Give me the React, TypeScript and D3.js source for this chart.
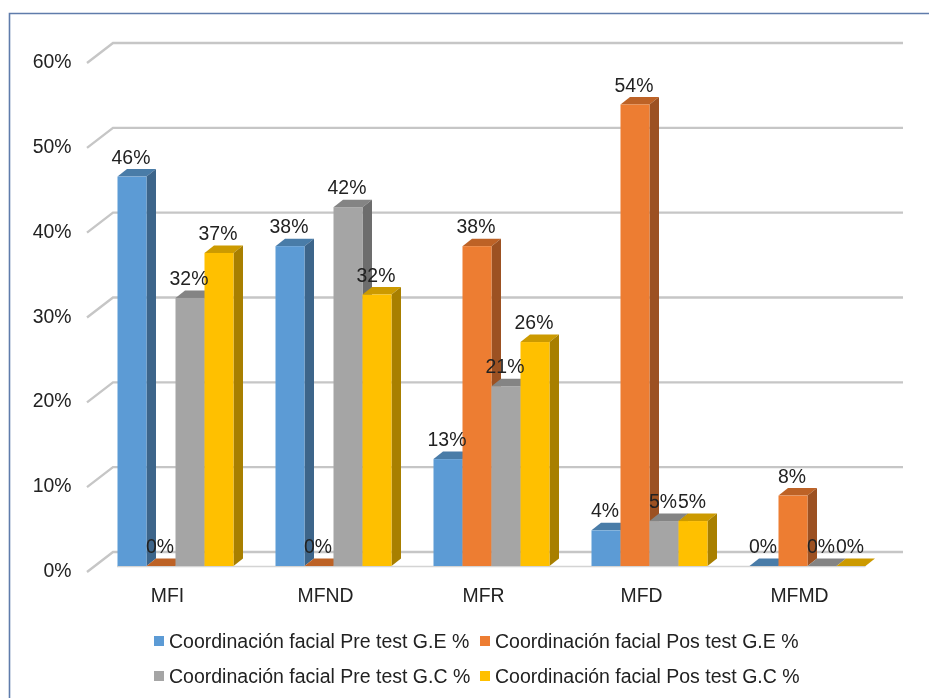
import React from "react";
import * as d3 from "d3";

const categories = ["MFI", "MFND", "MFR", "MFD", "MFMD"];
const seriesNames = [
  "Coordinación facial Pre test G.E %",
  "Coordinación facial Pos test G.E %",
  "Coordinación facial Pre test G.C %",
  "Coordinación facial Pos test G.C %",
];
const preGE = [45.9, 37.7, 12.6, 4.2, 0];
const posGE = [0, 0, 37.7, 54.4, 8.3];
const preGC = [31.6, 42.3, 21.2, 5.3, 0];
const posGC = [36.9, 32, 26.4, 5.3, 0];
const seriesValues = [preGE, posGE, preGC, posGC];
const front = ["#5b9bd5", "#ed7d31", "#a5a5a5", "#ffc000"];
const topFace = ["#4a7ba8", "#bd6226", "#848484", "#cc9a00"];
const side = ["#3d658a", "#9c5120", "#6d6d6d", "#a87f00"];
const yTicks = [0, 10, 20, 30, 40, 50, 60];

const font = "'Liberation Sans', Arial, sans-serif";
const ink = "#222";

export default function App() {
  const y = d3.scaleLinear().domain([0, 60]).range([566, 57]);
  const x0 = d3.scaleBand().domain(categories).range([96.5, 886.5]);
  const x1 = d3.scaleBand().domain(["0", "1", "2", "3"]).range([0, 116]);
  const bw = x1.bandwidth();
  const dx = 9.5, dy = 7.5;
  const gridShift = -6;
  const groupLeft = (c: string) => (x0(c) as number) + (x0.bandwidth() - 116) / 2;

  return (
    <svg width={929} height={698} style={{ position: "absolute", left: 0, top: 0, display: "block" }} fontFamily={font}>
      <defs>
        <filter id="soft" x="-2%" y="-2%" width="104%" height="104%">
          <feGaussianBlur stdDeviation="0.45" />
        </filter>
      </defs>
      <g filter="url(#soft)">
        <rect width={929} height={698} fill="#fff" />
        <path d="M9.5,698V13.5H929" fill="none" stroke="#5f7cab" strokeWidth={1.6} />
        {yTicks.map((t) => {
          const yy = y(t);
          return (
            <g key={t}>
              <path
                d={`M87,${yy - gridShift}L113,${yy - gridShift - 20}H903`}
                fill="none"
                stroke="#c6c6c6"
                strokeWidth={2.4}
              />
              <text x={71.5} y={yy + 11} textAnchor="end" fontSize={19.4} fill={ink}>
                {t}%
              </text>
            </g>
          );
        })}
        <path d={`M117,566.5H${groupLeft("MFMD") + 116}`} stroke="#d4d4d4" strokeWidth={1.4} />
        {categories.map((c, ci) => (
          <g key={c}>
            {[0, 1, 2, 3].map((si) => {
              const v = seriesValues[si][ci];
              const l = groupLeft(c) + (x1(String(si)) as number);
              const r = l + bw;
              const t = y(v);
              const b = y(0);
              return (
                <g key={si}>
                  <path d={`M${l},${t}L${l + dx},${t - dy}H${r + dx}L${r},${t}Z`} fill={topFace[si]} />
                  <path d={`M${r},${t}L${r + dx},${t - dy}V${b - dy}L${r},${b}Z`} fill={side[si]} />
                  <rect x={l} y={t} width={bw} height={b - t} fill={front[si]} />
                </g>
              );
            })}
          </g>
        ))}
        {categories.map((c, ci) => (
          <g key={c}>
            {[0, 1, 2, 3].map((si) => {
              const v = seriesValues[si][ci];
              const l = groupLeft(c) + (x1(String(si)) as number);
              return (
                <text key={si} x={l + bw / 2 - 1} y={y(v) - 13} textAnchor="middle" fontSize={19.4} fill={ink}>
                  {Math.round(v)}%
                </text>
              );
            })}
            <text x={groupLeft(c) + 50} y={602} textAnchor="middle" fontSize={19.4} fill={ink}>
              {c}
            </text>
          </g>
        ))}
        {seriesNames.map((n, i) => {
          const lx = i % 2 === 0 ? 154 : 480;
          const ly = i < 2 ? 641 : 676;
          return (
            <g key={n}>
              <rect x={lx} y={ly - 5} width={10} height={10} fill={front[i]} />
              <text x={lx + 15} y={ly + 6.5} fontSize={19.5} fill={ink}>
                {n}
              </text>
            </g>
          );
        })}
      </g>
    </svg>
  );
}
